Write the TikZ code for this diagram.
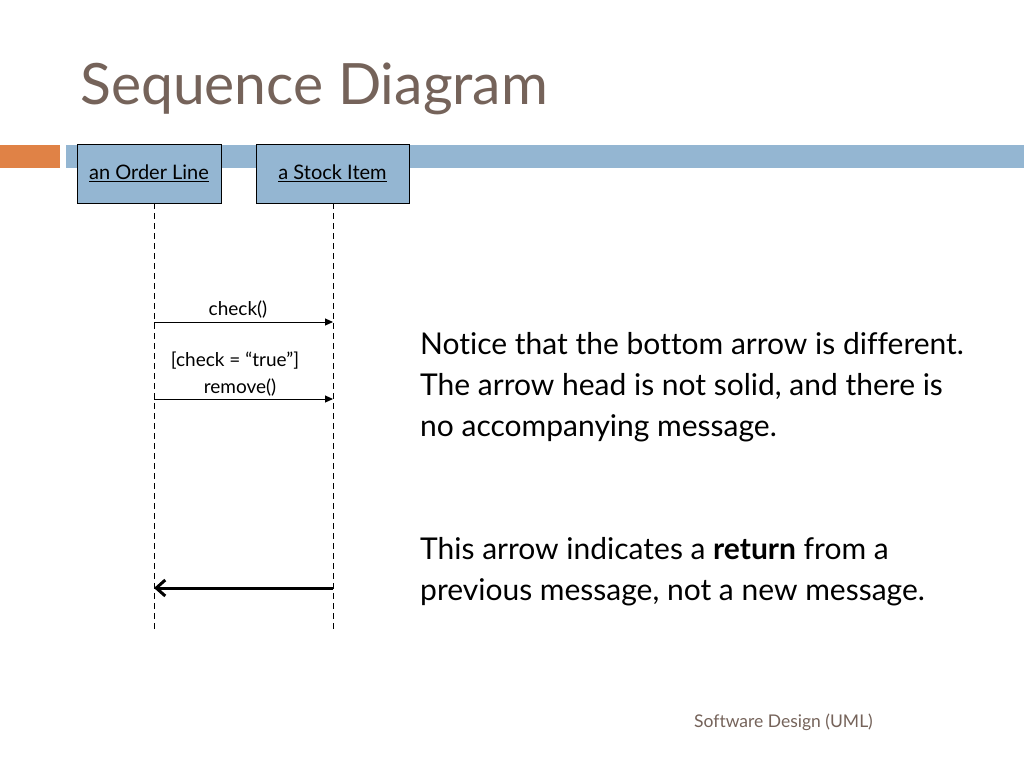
\documentclass[tikz,border=0pt]{standalone}
\usepackage{fontspec}
\setmainfont{Lato}[Ligatures=CommonOff]
\usetikzlibrary{arrows.meta,positioning}
\definecolor{titlebrown}{RGB}{117,99,90}
\definecolor{barorange}{RGB}{224,130,70}
\definecolor{barblue}{RGB}{148,182,210}

\begin{document}
\begin{tikzpicture}[x=1pt,y=-1pt,
  lifebox/.style={draw=black, fill=barblue, thick, minimum height=59pt,
    inner sep=0pt, font=\fontsize{20}{22}\selectfont},
  lifeline/.style={dash pattern=on 6pt off 4pt, line width=1pt},
  msg/.style={-{Triangle[length=8pt,width=7pt]}, line width=1pt},
  retmsg/.style={-{Straight Barb[length=9pt,width=16pt,line width=3pt]}, line width=3pt},
  msglabel/.style={font=\fontsize{19}{22}\selectfont, inner sep=0pt, anchor=base},
  notetext/.style={anchor=base west, align=left, inner sep=0pt,
    font=\fontsize{30}{41}\selectfont}
]
\path[fill=white, use as bounding box] (0,0) rectangle (1024,768);

% title and bars
\node[anchor=base west, inner sep=0pt, text=titlebrown,
  font=\fontsize{57}{60}\selectfont] (title) at (80,104) {Sequence Diagram};
\fill[barorange] (0,145) rectangle (60,168);
\fill[barblue] (66,145) rectangle (1024,168);

% objects
\node[lifebox, minimum width=144pt] (orderline) at (149,173.5) {\underline{an Order Line}};
\node[lifebox, minimum width=153pt] (stockitem) at (332.5,173.5) {\underline{a Stock Item}};

% lifelines
\coordinate (ol-top) at (154,203);
\coordinate (ol-bot) at (154,630);
\coordinate (si-top) at (333,203);
\coordinate (si-bot) at (333,630);
\draw[lifeline] (ol-top) -- (ol-bot);
\draw[lifeline] (si-top) -- (si-bot);

% messages
\coordinate (ol-check) at (154,322);
\coordinate (si-check) at (333,322);
\coordinate (ol-remove) at (154,399);
\coordinate (si-remove) at (333,399);
\coordinate (ol-return) at (154,588);
\coordinate (si-return) at (333,588);
\draw[msg] (ol-check) -- (si-check);
\draw[msg] (ol-remove) -- (si-remove);
\draw[retmsg] (si-return) -- (ol-return);
\node[msglabel] (checklbl) at (238,315) {check()};
\node[msglabel] (guardlbl) at (235,366) {[check = “true”]};
\node[msglabel] (removelbl) at (240,393) {remove()};

% notes
\node[notetext] (note1) at (420,436) {Notice that the bottom arrow is different.\\
  The arrow head is not solid, and there is\\ no accompanying message.};
\node[notetext] (note2) at (420,600) {This arrow indicates a \textbf{return} from a\\
  previous message, not a new message.};

\node[anchor=base west, inner sep=0pt, text=titlebrown,
  font=\fontsize{17.5}{20}\selectfont] (footer) at (694,727) {Software Design (UML)};
\end{tikzpicture}
\end{document}
